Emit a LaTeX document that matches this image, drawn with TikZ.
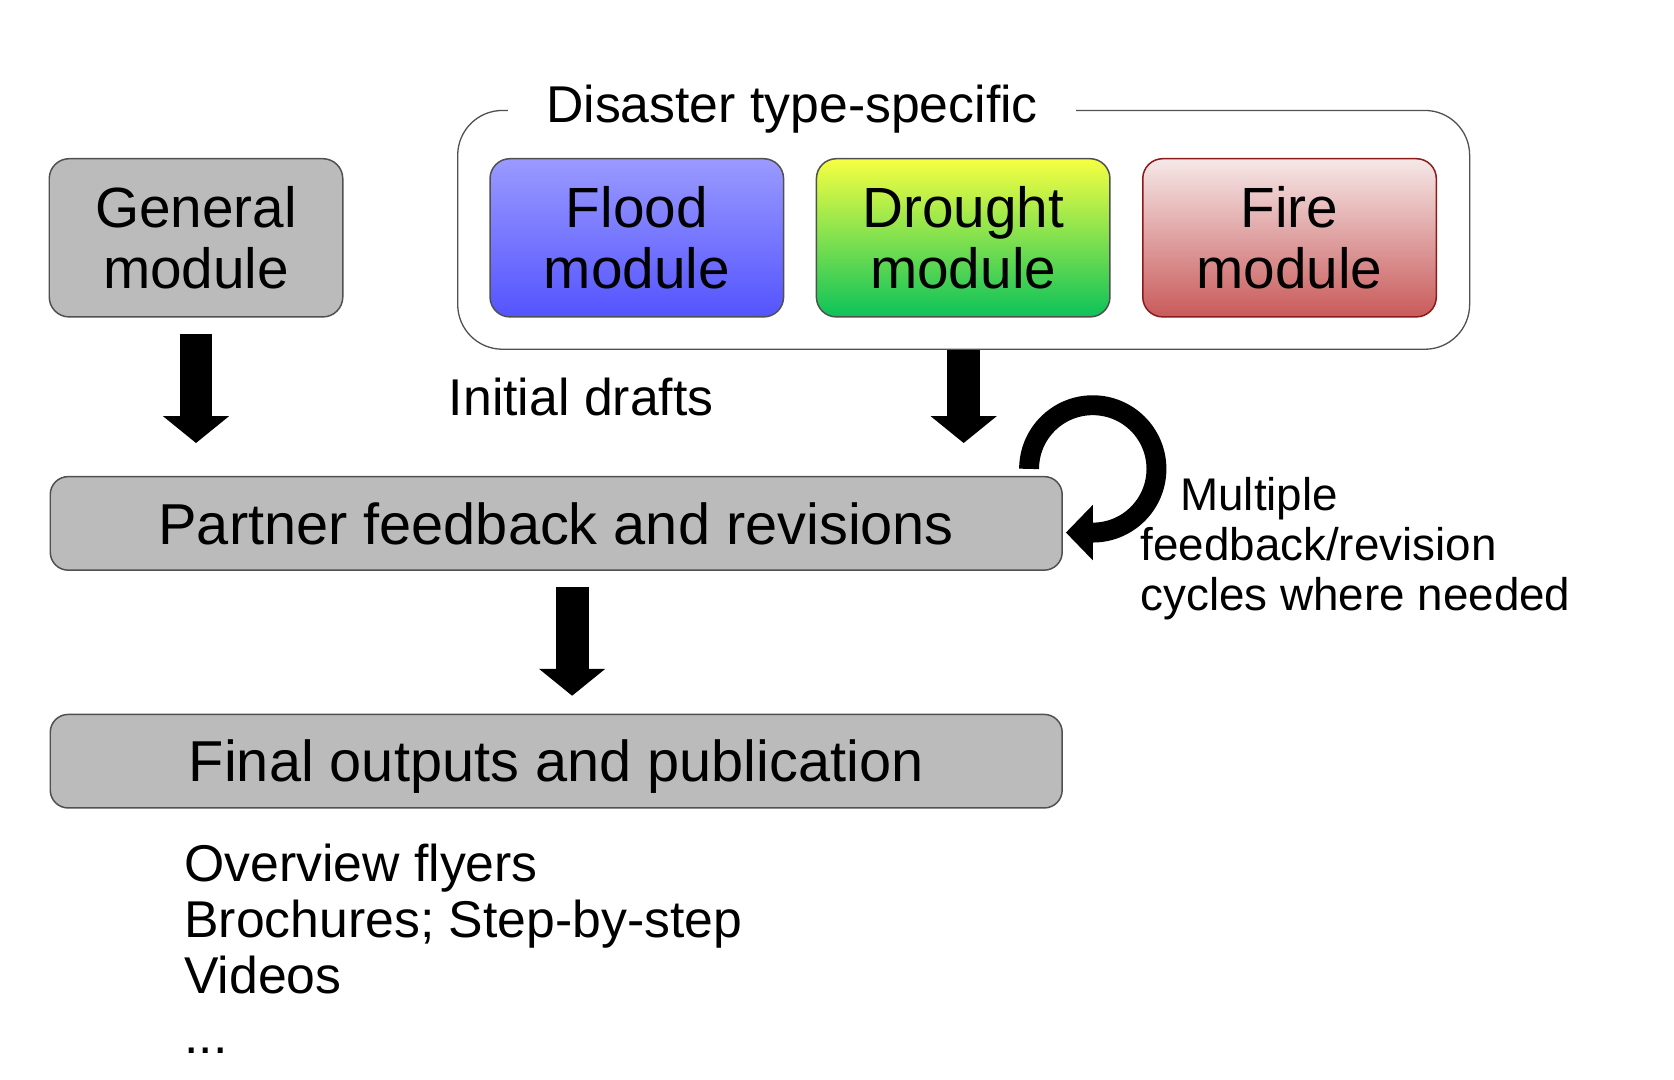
\documentclass[tikz,border=0pt]{standalone}
\usepackage{fontspec}
\setmainfont{Liberation Sans}
\usetikzlibrary{arrows.meta,calc}
\definecolor{boxgray}{HTML}{BBBBBB}
\definecolor{edgegray}{HTML}{505050}
\definecolor{floodtop}{HTML}{9A9AFF}
\definecolor{floodbot}{HTML}{5454FF}
\definecolor{drtop}{HTML}{F7FF42}
\definecolor{drbot}{HTML}{0CC25A}
\definecolor{firetop}{HTML}{F6E8E8}
\definecolor{firebot}{HTML}{C95A5A}
\definecolor{fireedge}{HTML}{8B1A1A}
\begin{document}
\begin{tikzpicture}[x=1pt,y=-1pt,
  modbox/.style={draw=edgegray, line width=1.5pt, rounded corners=20pt,
    minimum width=295pt, minimum height=159pt, align=center, inner sep=0pt,
    font=\fontsize{57}{62}\selectfont},
  widebox/.style={draw=edgegray, fill=boxgray, line width=1.5pt, rounded corners=18pt,
    minimum width=1017pt, minimum height=94pt, inner sep=0pt,
    font=\fontsize{58}{62}\selectfont, text height=41.5pt, text depth=0pt},
  blockarrow/.style={line width=33pt, -{Triangle[width=65pt,length=27pt]}},
  midtext/.style={font=\fontsize{52}{56}\selectfont, inner sep=0pt, anchor=base west},
  cyctext/.style={font=\fontsize{46}{50}\selectfont, inner sep=0pt, anchor=base west},
]
\fill[white] (0,0) rectangle (1682.4,1085.4);
\path[use as bounding box] (0,0) rectangle (1682.4,1085.4);

% group frame
\node[draw=edgegray, line width=1.3pt, rounded corners=45pt,
  minimum width=1017pt, minimum height=240pt, inner sep=0pt] (grp) at (968.5,231) {};
\node[fill=white, inner xsep=38pt, inner ysep=3pt, anchor=base,
  font=\fontsize{52}{56}\selectfont] (title) at (796,123) {Disaster type-specific};

% modules
\node[modbox, fill=boxgray] (gen) at (197,239) {General\\module};
\node[modbox, top color=floodtop, bottom color=floodbot] (flood) at (640,239) {Flood\\module};
\node[modbox, top color=drtop, bottom color=drbot] (drought) at (968,239) {Drought\\module};
\node[modbox, draw=fireedge, top color=firetop, bottom color=firebot] (fire) at (1296,239) {Fire\\module};

% process boxes
\node[widebox] (part) at (559,526) {Partner feedback and revisions};
\node[widebox] (fin) at (559,765) {Final outputs and publication};

% block arrows
\draw[blockarrow] ($(gen.south)+(0,16)$) -- ($(gen.south |- part.north)+(0,-33)$);
\draw[blockarrow] (grp.south) -- ($(grp.south |- part.north)+(0,-33)$);
\draw[blockarrow] ($(part.south)+(16,16)$) -- ($(part.south |- fin.north)+(16,-18)$);

% loop arrow
\coordinate (loopstart) at ($(part.north east)+(-34,-7)$);
\draw[line width=20pt, -{Triangle[width=54pt,length=27pt]}]
  (loopstart) arc[start angle=180, end angle=450, radius=64] -- ++(-27,0);

% labels
\node[midtext] (drafts) at (451,418) {Initial drafts};
\node[cyctext] (cyc1) at (1186,513) {Multiple};
\node[cyctext] (cyc2) at (1146,563) {feedback/revision};
\node[cyctext] (cyc3) at (1146,614) {cycles where needed};

\node[midtext] (out1) at (185,886) {Overview flyers};
\node[midtext] (out2) at (185,942) {Brochures; Step-by-step};
\node[midtext] (out3) at (185,998) {Videos};
\node[midtext] (out4) at (185,1059) {...};
\end{tikzpicture}
\end{document}
